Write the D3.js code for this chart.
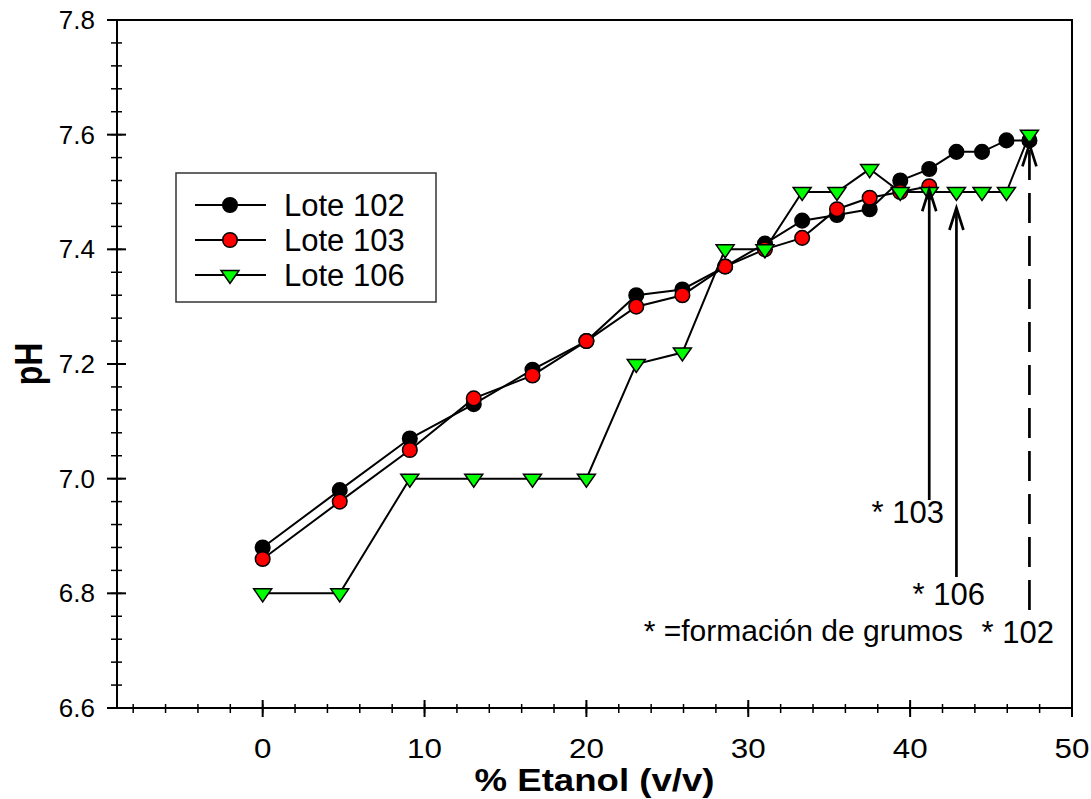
<!DOCTYPE html>
<html>
<head>
<meta charset="utf-8">
<script src="https://cdn.jsdelivr.net/npm/d3@7/dist/d3.min.js"></script>
<style>
	body { margin: 0; background: #ffffff; }
	text { font-family: "Liberation Sans", Arial, sans-serif; fill: #000; }
</style>
</head>
<body>
<svg id="chart" width="1091" height="799"></svg>
<script>
// DATA
const etanol = [0, 4.76, 9.09, 13.04, 16.67, 20, 23.08, 25.93, 28.57, 31.03, 33.33, 35.48, 37.5, 39.39, 41.18, 42.86, 44.44, 45.95, 47.37];
const lote102 = [6.88, 6.98, 7.07, 7.13, 7.19, 7.24, 7.32, 7.33, 7.37, 7.41, 7.45, 7.46, 7.47, 7.52, 7.54, 7.57, 7.57, 7.59, 7.59];
const lote103 = [6.86, 6.96, 7.05, 7.14, 7.18, 7.24, 7.30, 7.32, 7.37, 7.40, 7.42, 7.47, 7.49, 7.50, 7.51];
const lote106 = [6.80, 6.80, 7.00, 7.00, 7.00, 7.00, 7.20, 7.22, 7.40, 7.40, 7.50, 7.50, 7.54, 7.50, 7.50, 7.50, 7.50, 7.50, 7.60];
const seriesNames = ["Lote 102", "Lote 103", "Lote 106"];

const xTicks = [0, 10, 20, 30, 40, 50];
const yTicks = [6.6, 6.8, 7.0, 7.2, 7.4, 7.6, 7.8];

// clump formation (grumos) marks: lote, % etanol, pH at the point
const grumosLote = ["103", "106", "102"];
const grumosEtanol = [41.18, 42.86, 47.37];
const grumosPH = [7.51, 7.50, 7.59];
const grumosNote = "* =formación de grumos";

const svg = d3.select('#chart');

const margin = { left: 117, right: 1072, top: 20, bottom: 708 };

const x = d3.scaleLinear().domain([-9, 50]).range([margin.left, margin.right]);
const y = d3.scaleLinear().domain([6.6, 7.8]).range([margin.bottom, margin.top]);

// AXES
// frame (top and right without ticks)
svg.append('path')
	.attr('d', `M${margin.left},${margin.top}H${margin.right}V${margin.bottom}`)
	.attr('fill', 'none')
	.attr('stroke', '#000')
	.attr('stroke-width', 2);

// y axis, ticks crossing the line
let yMinor = d3.range(6.6, 7.8001, 0.04);
let gy = svg.append('g').attr('transform', `translate(${margin.left},0)`);
gy.append('line')
	.attr('x1', 0).attr('x2', 0)
	.attr('y1', margin.top).attr('y2', margin.bottom)
	.attr('stroke', '#000').attr('stroke-width', 2);
gy.selectAll('.minor').data(yMinor).join('line')
	.attr('class', 'minor')
	.attr('x1', -6).attr('x2', 5)
	.attr('y1', d => y(d)).attr('y2', d => y(d))
	.attr('stroke', '#000').attr('stroke-width', 1.5);
gy.selectAll('.major').data(yTicks).join('line')
	.attr('class', 'major')
	.attr('x1', -10).attr('x2', 9)
	.attr('y1', d => y(d)).attr('y2', d => y(d))
	.attr('stroke', '#000').attr('stroke-width', 2);
gy.selectAll('.label').data(yTicks).join('text')
	.attr('class', 'label')
	.attr('x', -22)
	.attr('y', d => y(d))
	.attr('dy', '0.35em')
	.attr('text-anchor', 'end')
	.style('font-size', '26px')
	.text(d => d.toFixed(1));

// x axis
let xMinor = d3.range(-8, 50.001, 2);
let gx = svg.append('g').attr('transform', `translate(0,${margin.bottom})`);
gx.append('line')
	.attr('x1', margin.left).attr('x2', margin.right)
	.attr('y1', 0).attr('y2', 0)
	.attr('stroke', '#000').attr('stroke-width', 2);
gx.selectAll('.minor').data(xMinor).join('line')
	.attr('class', 'minor')
	.attr('x1', d => x(d)).attr('x2', d => x(d))
	.attr('y1', -4).attr('y2', 5)
	.attr('stroke', '#000').attr('stroke-width', 1.5);
gx.selectAll('.major').data(xTicks).join('line')
	.attr('class', 'major')
	.attr('x1', d => x(d)).attr('x2', d => x(d))
	.attr('y1', -8).attr('y2', 9)
	.attr('stroke', '#000').attr('stroke-width', 2);
gx.selectAll('.label').data(xTicks).join('text')
	.attr('class', 'label')
	.attr('transform', d => `translate(${x(d)},50) scale(1.12,1)`)
	.attr('text-anchor', 'middle')
	.style('font-size', '28px')
	.text(d => d);

// axis titles
svg.append('text')
	.attr('x', (margin.left + margin.right) / 2 - 120)
	.attr('y', 791)
	.attr('textLength', 240)
	.attr('lengthAdjust', 'spacingAndGlyphs')
	.style('font-size', '31px')
	.style('font-weight', 'bold')
	.text('% Etanol (v/v)');

svg.append('text')
	.attr('transform', `translate(42,${y(7.2)}) rotate(-90) scale(1,1.2)`)
	.attr('text-anchor', 'middle')
	.style('font-size', '32px')
	.style('font-weight', 'bold')
	.text('pH');

// SERIES
const series = [
	{ name: seriesNames[0], values: lote102, shape: 'circle', fill: '#000000' },
	{ name: seriesNames[1], values: lote103, shape: 'circle', fill: '#ff0000' },
	{ name: seriesNames[2], values: lote106, shape: 'triangle', fill: '#00ff00' }
];

const triangle = 'M-9,-4.5L9,-4.5L0,8.5Z';

function drawMarker(sel, s) {
	if (s.shape == 'circle') {
		sel.append('circle')
			.attr('r', 7.3)
			.attr('fill', s.fill)
			.attr('stroke', '#000')
			.attr('stroke-width', 1.5);
	} else {
		sel.append('path')
			.attr('d', triangle)
			.attr('fill', s.fill)
			.attr('stroke', '#000')
			.attr('stroke-width', 1.5);
	}
}

const line = d3.line()
	.x(d => x(d[0]))
	.y(d => y(d[1]));

series.forEach(s => {
	let pts = s.values.map((v, i) => [etanol[i], v]);
	let g = svg.append('g');
	g.append('path')
		.attr('d', line(pts))
		.attr('fill', 'none')
		.attr('stroke', '#000')
		.attr('stroke-width', 2);
	g.selectAll('g').data(pts).join('g')
		.attr('transform', d => `translate(${x(d[0])},${y(d[1])})`)
		.each(function () { drawMarker(d3.select(this), s); });
});

// LEGEND
let legend = svg.append('g').attr('transform', 'translate(176,173)');
legend.append('rect')
	.attr('width', 260).attr('height', 129)
	.attr('fill', '#fff')
	.attr('stroke', '#333')
	.attr('stroke-width', 1.5);
series.forEach((s, i) => {
	let row = legend.append('g').attr('transform', `translate(0,${32 + i * 35})`);
	row.append('line')
		.attr('x1', 19).attr('x2', 90)
		.attr('stroke', '#000').attr('stroke-width', 2);
	drawMarker(row.append('g').attr('transform', 'translate(54,0)'), s);
	row.append('text')
		.attr('x', 108)
		.attr('dy', '0.36em')
		.style('font-size', '31px')
		.text(s.name);
});

// CLUMP ARROWS
// pixel layout per arrow: gap below point, arrow foot, label anchor
const arrowLayout = [
	{ gap: 3, foot: 500, lx: 944, ly: 523, dashed: false },
	{ gap: 16, foot: 577, lx: 985, ly: 605, dashed: false },
	{ gap: 4, foot: 610, lx: 1054, ly: 643, dashed: true }
];

grumosLote.forEach((lote, i) => {
	let L = arrowLayout[i];
	let ax = x(grumosEtanol[i]);
	let tip = y(grumosPH[i]) + L.gap;
	let g = svg.append('g')
		.attr('stroke', '#000')
		.attr('stroke-width', 2.7)
		.attr('fill', 'none');
	g.append('line')
		.attr('x1', ax).attr('x2', ax)
		.attr('y1', L.foot).attr('y2', tip + 2)
		.attr('stroke-dasharray', L.dashed ? '30,13' : null);
	g.append('path')
		.attr('d', `M${ax - 7},${tip + 22}L${ax},${tip}L${ax + 7},${tip + 22}`);
	svg.append('text')
		.attr('x', L.lx)
		.attr('y', L.ly)
		.attr('text-anchor', 'end')
		.style('font-size', '31px')
		.text('* ' + lote);
});

svg.append('text')
	.attr('x', 963)
	.attr('y', 641)
	.attr('text-anchor', 'end')
	.style('font-size', '30px')
	.text(grumosNote);
</script>
</body>
</html>
